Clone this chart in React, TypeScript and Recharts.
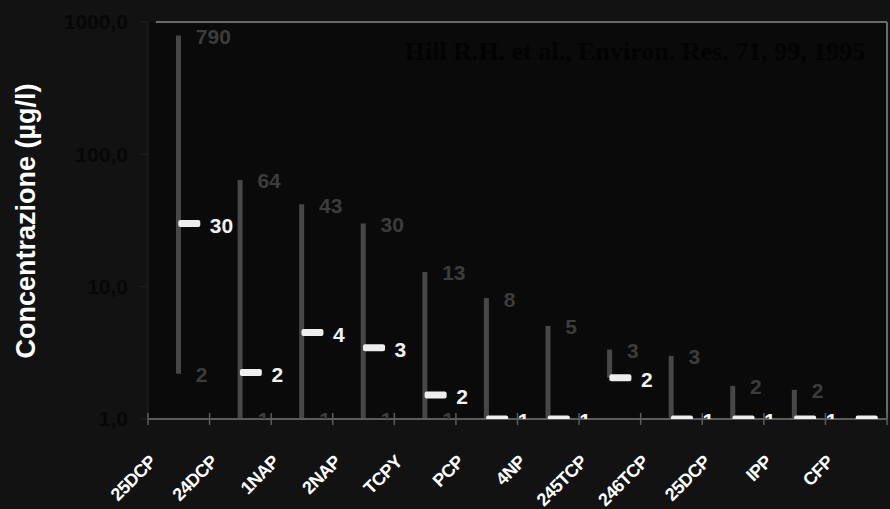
import React from 'react';
import {
  ComposedChart,
  Bar,
  Scatter,
  XAxis,
  YAxis,
  CartesianGrid,
  ReferenceLine,
} from 'recharts';

const categories = ['25DCP', '24DCP', '1NAP', '2NAP', 'TCPY', 'PCP', '4NP', '245TCP', '246TCP', '25DCP', 'IPP', 'CFP'];
const maxValues = [790, 64, 42, 30, 12.9, 8.2, 5.05, 3.35, 3, 1.78, 1.66, 1];
const minValues = [2.2, 1, 1, 1, 1, 1, 1, 2.05, 1, 1, 1, 1];
const medianValues = [30, 2.25, 4.5, 3.45, 1.52, 1, 1, 2.05, 1, 1, 1, 1];
const maxLabels = ['790', '64', '43', '30', '13', '8', '5', '3', '3', '2', '2', ''];
const minLabels = ['2', '1', '1', '1', '1', '', '', '', '', '', '', ''];
const medianLabels = ['30', '2', '4', '3', '2', '1', '1', '2', '1', '1', '1', ''];
const yTicks = [1, 10, 100, 1000];
const xTicks = [0, 1, 2, 3, 4, 5, 6, 7, 8, 9, 10, 11, 12];

const data = categories.map((c, i) => ({
  x: i + 0.5,
  name: c,
  max: maxValues[i],
  min: minValues[i],
  median: medianValues[i],
  maxLabel: maxLabels[i],
  minLabel: minLabels[i],
  medianLabel: medianLabels[i],
}));

const FONT = '"Liberation Sans", Arial, sans-serif';

const XTick = (props: any) => {
  const { x, y, payload } = props;
  const i = payload.value;
  const name = i < categories.length ? categories[i] : '';
  return (
    <g>
      <line x1={x} x2={x} y1={y - 6} y2={y + 6} stroke="#5c5c5c" strokeWidth={1.5} />
      {name && (
        <text
          x={x + 9}
          y={y + 44}
          transform={`rotate(-45 ${x + 9} ${y + 44})`}
          textAnchor="end"
          fill="#ffffff"
          fontFamily={FONT}
          fontWeight="bold"
          fontSize={18}
          letterSpacing={-0.6}
        >
          {name}
        </text>
      )}
    </g>
  );
};

const YTick = (props: any) => {
  const { x, y, payload } = props;
  return (
    <text
      x={x}
      y={y}
      dy="0.355em"
      textAnchor="end"
      style={{ fill: '#070707', stroke: 'none' }}
      fontFamily={FONT}
      fontWeight="bold"
      fontSize={21}
    >
      {Number(payload.value).toFixed(1).replace('.', ',')}
    </text>
  );
};

const MedianShape = (props: any) => {
  const { cx, cy } = props;
  return <rect x={cx - 0.5} y={cy - 3.5} width={22} height={7} rx={2} fill="#eeeeee" />;
};

const MedianLabelShape = (props: any) => {
  const { cx, cy, payload } = props;
  if (!payload.medianLabel) return <g />;
  return (
    <text x={cx + 31} y={cy + 2} dy="0.355em" fill="#f2f2f2" fontFamily={FONT} fontWeight="bold" fontSize={21}>
      {payload.medianLabel}
    </text>
  );
};

const MaxLabelShape = (props: any) => {
  const { cx, cy, payload } = props;
  if (!payload.maxLabel) return <g />;
  return (
    <text x={cx + 17} y={cy + 1} dy="0.355em" fill="#3c3c3c" fontFamily={FONT} fontWeight="bold" fontSize={21}>
      {payload.maxLabel}
    </text>
  );
};

const MinLabelShape = (props: any) => {
  const { cx, cy, payload } = props;
  if (!payload.minLabel) return <g />;
  return (
    <text x={cx + 17} y={cy + 1} dy="0.355em" fill="#3c3c3c" fontFamily={FONT} fontWeight="bold" fontSize={21}>
      {payload.minLabel}
    </text>
  );
};

const Extras = () => (
  <g>
    <text
      x={26}
      y={221}
      transform="rotate(-90 26 221)"
      textAnchor="middle"
      dominantBaseline="central"
      fill="#ffffff"
      fontFamily={FONT}
      fontWeight="bold"
      fontSize={27}
    >
      Concentrazione (µg/l)
    </text>
    <text
      x={635}
      y={60}
      textAnchor="middle"
      fill="#030303"
      fontFamily='"Liberation Serif", "Times New Roman", serif'
      fontWeight="bold"
      fontSize={26}
    >
      Hill R.H. et al., Environ. Res. 71, 99, 1995
    </text>
  </g>
);

export default function App() {
  return (
    <div style={{ position: 'absolute', left: 0, top: 0, width: 890, height: 509, background: '#121212' }}>
      <ComposedChart
        width={890}
        height={509}
        data={data}
        margin={{ top: 22, right: 3, left: 0, bottom: 0 }}
      >
        <CartesianGrid horizontal={false} vertical={false} fill="#0a0a0a" />
        <XAxis
          dataKey="x"
          type="number"
          domain={[0, 12]}
          ticks={xTicks}
          interval={0}
          height={90}
          tickSize={0}
          tickMargin={0}
          tickLine={false}
          axisLine={{ stroke: '#5c5c5c', strokeWidth: 2 }}
          tick={<XTick />}
          allowDataOverflow
        />
        <YAxis
          scale="log"
          domain={[1, 1000]}
          ticks={yTicks}
          allowDataOverflow
          width={148}
          tickSize={8}
          tickMargin={12}
          axisLine={{ stroke: '#222222' }}
          tickLine={{ stroke: '#222222' }}
          tick={<YTick />}
          label={{ content: () => <Extras /> }}
        />
        <ReferenceLine
          segment={[{ x: 0.13, y: 1000 }, { x: 12, y: 1000 }]}
          stroke="#6a6a6a"
          strokeWidth={2}
        />
        <ReferenceLine x={12} stroke="#6a6a6a" strokeWidth={2} />
        <Bar
          dataKey={(d: any) => [d.min, d.max]}
          barSize={5}
          fill="#474747"
          isAnimationActive={false}
        />
        <Scatter dataKey="min" shape={<MinLabelShape />} isAnimationActive={false} />
        <Scatter dataKey="max" shape={<MaxLabelShape />} isAnimationActive={false} />
        <Scatter dataKey="median" shape={<MedianShape />} isAnimationActive={false} />
        <Scatter dataKey="median" shape={<MedianLabelShape />} isAnimationActive={false} />
      </ComposedChart>
    </div>
  );
}
